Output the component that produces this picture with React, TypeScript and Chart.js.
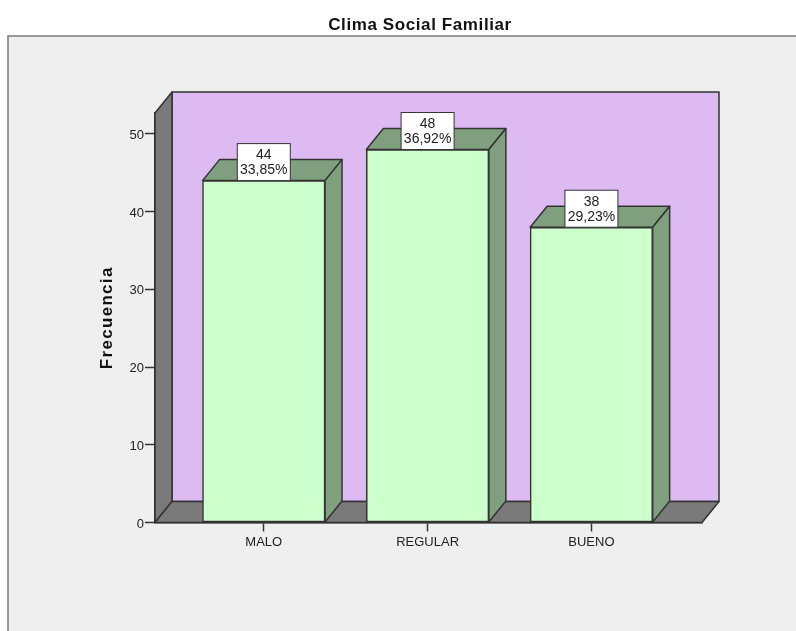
import React, { useEffect, useRef } from "react";
import { Chart, registerables } from "chart.js";

Chart.register(...registerables);

const chartTitle = "Clima Social Familiar";
const yAxisTitle = "Frecuencia";
const categories = ["MALO", "REGULAR", "BUENO"];
const frequencies = [44, 48, 38];
const percentages = ["33,85%", "36,92%", "29,23%"];

const FONT = "'Liberation Sans', Arial, sans-serif";
const INK = "#333333";
const DX = 17;
const DY = 21;

function poly(ctx: CanvasRenderingContext2D, pts: number[][], fill: string) {
  ctx.beginPath();
  pts.forEach((p, i) => (i ? ctx.lineTo(p[0], p[1]) : ctx.moveTo(p[0], p[1])));
  ctx.closePath();
  ctx.fillStyle = fill;
  ctx.fill();
  ctx.lineWidth = 1.5;
  ctx.strokeStyle = INK;
  ctx.lineJoin = "round";
  ctx.stroke();
}

function withSpacing(ctx: any, spacing: string, draw: () => void) {
  ctx.letterSpacing = spacing;
  draw();
  ctx.letterSpacing = "0px";
}

const scenePlugin = {
  id: "scene",
  afterLayout(chart: any) {
    const block = chart.titleBlock;
    if (block && !block.__spaced) {
      const drawTitle = block.draw.bind(block);
      block.draw = () => withSpacing(chart.ctx, "0.6px", drawTitle);
      block.__spaced = true;
    }
    const y = chart.scales.y;
    if (y && !y.__spaced) {
      const drawAxisTitle = y.drawTitle.bind(y);
      y.drawTitle = () => withSpacing(chart.ctx, "1.3px", drawAxisTitle);
      y.__spaced = true;
    }
  },
  beforeDraw(chart: any) {
    const { ctx, width, height } = chart;
    ctx.save();
    ctx.fillStyle = "#ffffff";
    ctx.fillRect(0, 0, width, height);
    ctx.fillStyle = "#efefef";
    ctx.fillRect(8, 36, width - 8, height - 36);
    ctx.strokeStyle = "#7a7a7a";
    ctx.lineWidth = 1.5;
    ctx.beginPath();
    ctx.moveTo(8, height);
    ctx.lineTo(8, 36);
    ctx.lineTo(width, 36);
    ctx.stroke();
    ctx.restore();
  },
  beforeDatasetsDraw(chart: any) {
    const { ctx, chartArea: a } = chart;
    ctx.save();
    poly(ctx, [[a.left + DX, a.top - DY], [a.right + DX, a.top - DY], [a.right + DX, a.bottom - DY], [a.left + DX, a.bottom - DY]], "#debaf3");
    poly(ctx, [[a.left, a.bottom], [a.left, a.top], [a.left + DX, a.top - DY], [a.left + DX, a.bottom - DY]], "#7a7a7a");
    poly(ctx, [[a.left, a.bottom], [a.left + DX, a.bottom - DY], [a.right + DX, a.bottom - DY], [a.right, a.bottom]], "#7a7a7a");
    chart.getDatasetMeta(0).data.forEach((bar: any) => {
      const l = bar.x - bar.width / 2;
      const r = bar.x + bar.width / 2;
      poly(ctx, [[l, bar.y], [l + DX, bar.y - DY], [r + DX, bar.y - DY], [r, bar.y]], "#7f9f7f");
      poly(ctx, [[r, bar.y], [r + DX, bar.y - DY], [r + DX, bar.base - DY], [r, bar.base]], "#7f9f7f");
    });
    ctx.restore();
  },
  afterDatasetsDraw(chart: any) {
    const { ctx } = chart;
    ctx.save();
    chart.getDatasetMeta(0).data.forEach((bar: any, i: number) => {
      const w = 53;
      const h = 37;
      ctx.fillStyle = "#ffffff";
      ctx.strokeStyle = INK;
      ctx.lineWidth = 1;
      ctx.fillRect(bar.x - w / 2, bar.y - h, w, h);
      ctx.strokeRect(bar.x - w / 2, bar.y - h, w, h);
      ctx.fillStyle = "#222222";
      ctx.font = `14px ${FONT}`;
      ctx.textAlign = "center";
      ctx.textBaseline = "middle";
      ctx.fillText(String(frequencies[i]), bar.x, bar.y - 25.5);
      ctx.fillText(percentages[i], bar.x, bar.y - 10);
    });
    ctx.restore();
  },
};

export default function App() {
  const ref = useRef<HTMLCanvasElement>(null);
  useEffect(() => {
    const chart = new Chart(ref.current!, {
      type: "bar",
      data: {
        datasets: [
          {
            label: yAxisTitle,
            data: frequencies.map((y, i) => ({ x: i, y })),
            backgroundColor: "#ccffcc",
            borderColor: INK,
            borderWidth: 1.5,
            borderSkipped: false,
            barThickness: 122.5,
          },
        ],
      },
      options: {
        animation: false,
        responsive: false,
        layout: { padding: { top: 15, left: 44, right: 0, bottom: 0 } },
        plugins: {
          legend: { display: false },
          tooltip: { enabled: false },
          title: {
            display: true,
            text: chartTitle,
            color: "#111111",
            font: { family: FONT, size: 17, weight: "bold" },
            padding: { top: 0, bottom: 77.6 },
          },
        },
        scales: {
          x: {
            type: "linear",
            offset: false,
            min: -0.664,
            max: 2.675,
            afterFit: (s: any) => { s.height = 108.5; },
            grid: { drawOnChartArea: false, offset: false, tickLength: 9, tickColor: INK, tickWidth: 1.5 },
            border: { display: true, color: INK, width: 1.5 },
            ticks: {
              stepSize: 1,
              includeBounds: false,
              autoSkip: false,
              maxRotation: 0,
              padding: 3,
              color: "#222222",
              font: { family: FONT, size: 13 },
              callback: (v: any) => categories[v] ?? "",
            },
          },
          y: {
            min: 0,
            max: 52.7,
            afterFit: (s: any) => { s.width = 111; },
            title: {
              display: true,
              text: yAxisTitle,
              color: "#111111",
              font: { family: FONT, size: 17, weight: "bold" },
              padding: { top: 53, bottom: 0 },
            },
            grid: { drawOnChartArea: false, tickLength: 10, tickColor: INK, tickWidth: 1.5 },
            border: { display: true, color: INK, width: 1.5 },
            ticks: {
              stepSize: 10,
              includeBounds: false,
              padding: 1,
              labelOffset: 1.5,
              color: "#222222",
              font: { family: FONT, size: 13 },
            },
          },
          spacer: {
            position: "right",
            afterFit: (s: any) => { s.width = 94; },
            grid: { display: false },
            border: { display: false },
            ticks: { display: false },
          },
        },
      },
      plugins: [scenePlugin],
    } as any);
    return () => chart.destroy();
  }, []);
  return (
    <canvas
      ref={ref}
      width={796}
      height={631}
      style={{ position: "fixed", left: 0, top: 0, display: "block" }}
    />
  );
}
